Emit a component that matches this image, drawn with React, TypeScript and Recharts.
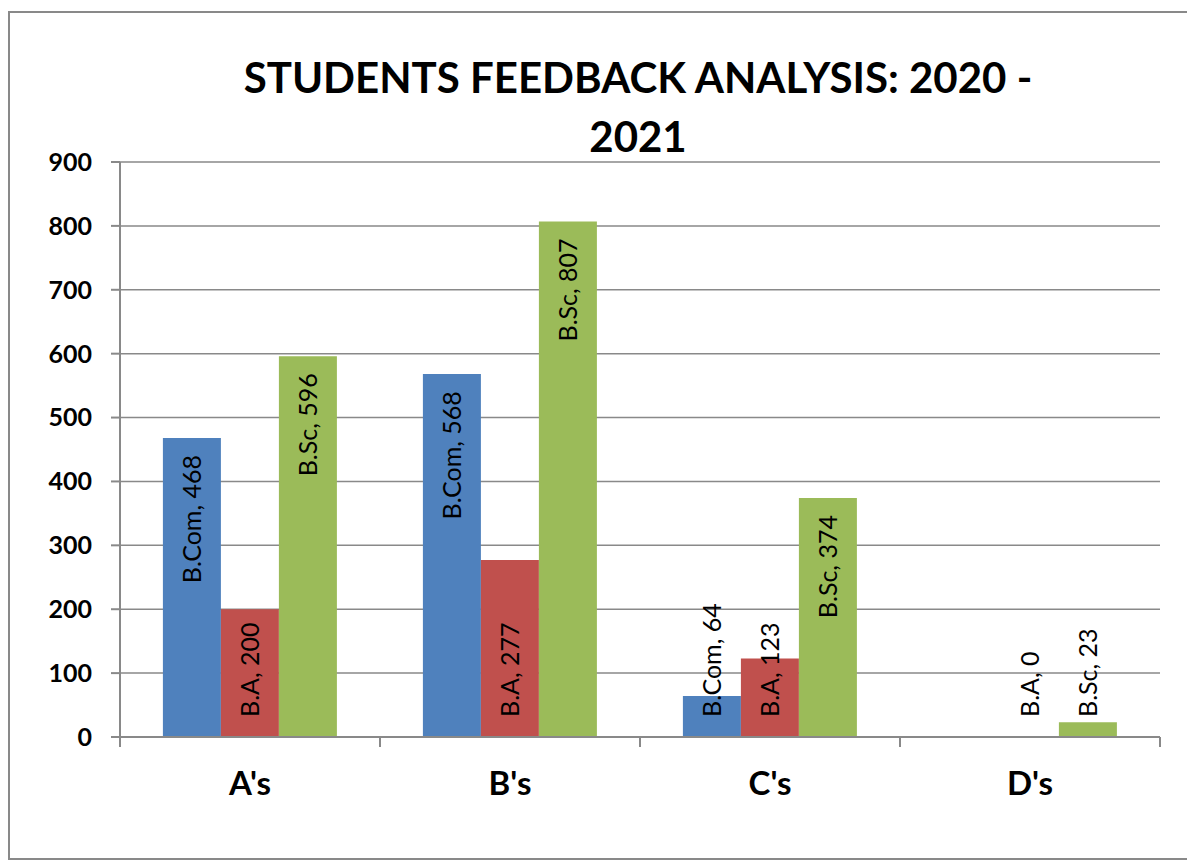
import React from 'react';
import { BarChart, Bar, XAxis, YAxis, CartesianGrid, LabelList } from 'recharts';

const categories = ["A's", "B's", "C's", "D's"];
const bcomValues: (number | null)[] = [468, 568, 64, null];
const baValues: (number | null)[] = [200, 277, 123, 0];
const bscValues: (number | null)[] = [596, 807, 374, 23];
const seriesNames = ['B.Com', 'B.A', 'B.Sc'];
const seriesColors = ['#4F81BD', '#C0504D', '#9BBB59'];
const yTicks = [0, 100, 200, 300, 400, 500, 600, 700, 800, 900];
const titleLines = ['STUDENTS FEEDBACK ANALYSIS: 2020 -', '2021'];

const data = categories.map((c, i) => ({
  cat: c,
  bcom: bcomValues[i],
  ba: baValues[i],
  bsc: bscValues[i],
}));

const GRAY = '#898989';
const FONT = 'Lato, sans-serif';

const makeLabel = (name: string) => (props: any) => {
  const { x, y, width, height, value } = props;
  if (value === null || value === undefined) return null;
  const cx = Number(x) + Number(width) / 2;
  const top = Number(y);
  const zeroY = Number(y) + Number(height);
  const v = Number(value);
  const bx = cx + 9;
  let py: number;
  let anchor: 'start' | 'end';
  if (v >= 300) {
    py = top + 17;
    anchor = 'end';
  } else {
    py = zeroY - 20;
    anchor = 'start';
  }
  return (
    <text
      x={bx}
      y={py}
      transform={`rotate(-90 ${bx} ${py})`}
      textAnchor={anchor}
      fontFamily={FONT}
      fontSize={25}
      fill="#000"
    >
      {`${name}, ${value}`}
    </text>
  );
};

const CategoryTick = (props: any) => {
  const { x, y, payload } = props;
  const half = payload && typeof payload.offset === 'number' && payload.offset > 0 ? payload.offset : 130;
  return (
    <g>
      <line x1={x - half} x2={x - half} y1={y} y2={y + 10} stroke={GRAY} strokeWidth={2} />
      <line x1={x + half} x2={x + half} y1={y} y2={y + 10} stroke={GRAY} strokeWidth={2} />
      <text
        x={x}
        y={y + 58}
        textAnchor="middle"
        fontFamily={FONT}
        fontWeight={700}
        fontSize={33}
        fill="#000"
      >
        {payload.value}
      </text>
    </g>
  );
};

const zeroMin = (v: any) => (v === 0 ? 0.01 : 0);

export default function App() {
  return (
    <div style={{ position: 'absolute', left: 0, top: 0, width: 1187, height: 863, background: '#fff' }}>
      <BarChart
        width={1187}
        height={863}
        data={data}
        margin={{ top: 162, right: 27, left: 60, bottom: 86 }}
        barCategoryGap="16.5%"
        barGap={0}
      >
        <CartesianGrid vertical={false} stroke={GRAY} strokeWidth={1.5} />
        <XAxis
          dataKey="cat"
          height={40}
          axisLine={{ stroke: GRAY, strokeWidth: 2 }}
          tickLine={false}
          tickSize={0}
          tickMargin={0}
          interval={0}
          tick={<CategoryTick />}
        />
        <YAxis
          width={60}
          domain={[0, 900]}
          ticks={yTicks}
          interval={0}
          tickSize={9}
          tickMargin={19}
          axisLine={{ stroke: GRAY, strokeWidth: 2 }}
          tickLine={{ stroke: GRAY, strokeWidth: 2 }}
          tick={{ fill: '#000', fontFamily: FONT, fontWeight: 700, fontSize: 25 }}
        />
        <Bar dataKey="bcom" fill={seriesColors[0]} isAnimationActive={false}>
          <LabelList dataKey="bcom" content={makeLabel(seriesNames[0])} />
        </Bar>
        <Bar dataKey="ba" fill={seriesColors[1]} minPointSize={zeroMin} isAnimationActive={false}>
          <LabelList dataKey="ba" content={makeLabel(seriesNames[1])} />
        </Bar>
        <Bar dataKey="bsc" fill={seriesColors[2]} isAnimationActive={false}>
          <LabelList dataKey="bsc" content={makeLabel(seriesNames[2])} />
        </Bar>
      </BarChart>
      <svg
        width={1187}
        height={863}
        style={{ position: 'absolute', left: 0, top: 0, pointerEvents: 'none' }}
      >
        <rect x={9} y={12} width={1200} height={847} fill="none" stroke={GRAY} strokeWidth={2} />
        <text x={638} y={93} textAnchor="middle" fontFamily={FONT} fontWeight={700} fontSize={42} fill="#000">
          {titleLines[0]}
        </text>
        <text x={638} y={152} textAnchor="middle" fontFamily={FONT} fontWeight={700} fontSize={42} fill="#000">
          {titleLines[1]}
        </text>
      </svg>
    </div>
  );
}
